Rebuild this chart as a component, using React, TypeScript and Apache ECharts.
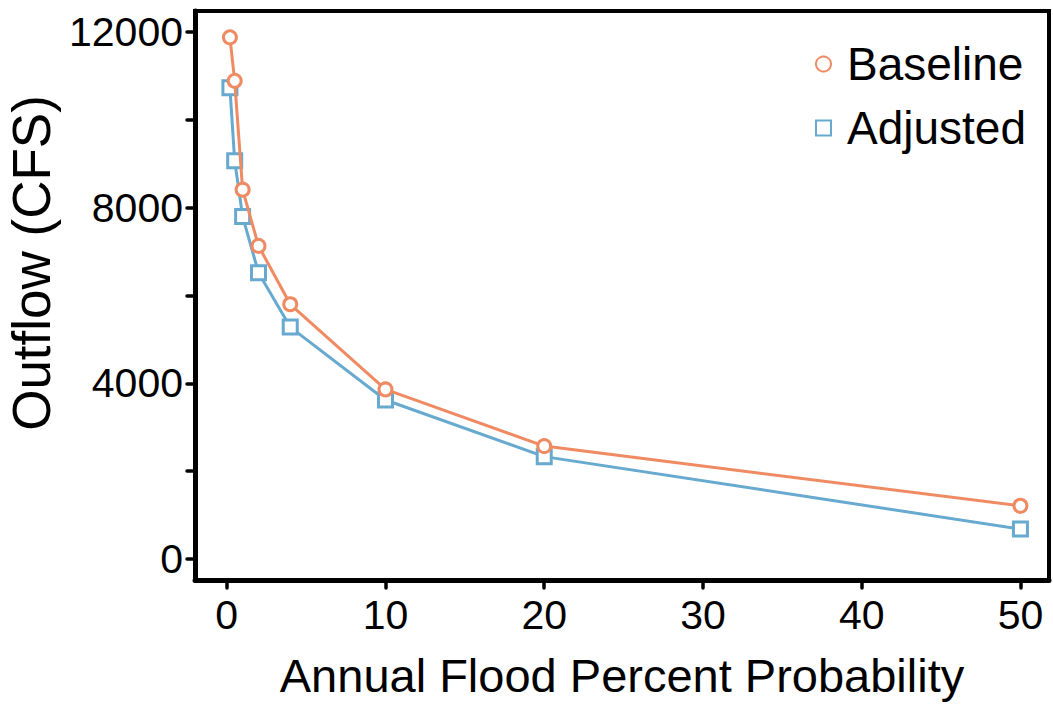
import React, { useEffect, useRef } from "react";
import * as echarts from "echarts";

const probability = [0.2, 0.5, 1, 2, 4, 10, 20, 50];
const baseline = [11880, 10890, 8410, 7130, 5800, 3860, 2570, 1210];
const adjusted = [10730, 9070, 7800, 6520, 5280, 3620, 2330, 680];
const xTicks = [0, 10, 20, 30, 40, 50];
const yTicks = [0, 2000, 4000, 6000, 8000, 10000, 12000];
const yLabels = [0, 4000, 8000, 12000];
const xTitle = "Annual Flood Percent Probability";
const yTitle = "Outflow (CFS)";

const FONT = "'Liberation Sans', Arial, Helvetica, sans-serif";
const ORANGE = "#EF8A62";
const BLUE = "#67A9CF";

export default function App() {
  const ref = useRef<HTMLDivElement>(null);
  useEffect(() => {
    if (!ref.current) return;
    const chart = echarts.init(ref.current, null, { renderer: "svg" });
    const mk = (arr: number[]) => probability.map((p, i) => [p, arr[i]]);
    chart.setOption({
      animation: false,
      backgroundColor: "#ffffff",
      textStyle: { fontFamily: FONT },
      grid: {
        left: 195,
        right: 4,
        top: 11,
        bottom: 124,
        containLabel: false,
        outerBoundsMode: "none",
        show: true,
        borderColor: "#000",
        borderWidth: 4,
        backgroundColor: "transparent",
      },
      graphic: [
        {
          type: "text",
          x: 31.5,
          y: 263,
          rotation: Math.PI / 2,
          style: {
            text: yTitle,
            fontSize: 53,
            fontFamily: FONT,
            fill: "#000",
            align: "center",
            verticalAlign: "middle",
          },
        },
      ],
      legend: {
        orient: "vertical",
        left: 810,
        top: 36,
        itemWidth: 15,
        itemHeight: 15,
        itemGap: 18,
        textStyle: { fontSize: 46, color: "#000", fontFamily: FONT, padding: [0, 0, 0, 11] },
        data: [
          { name: "Baseline", icon: "circle" },
          { name: "Adjusted", icon: "rect" },
        ],
      },
      xAxis: {
        type: "value",
        min: -2,
        max: 51.8,
        name: xTitle,
        nameLocation: "middle",
        nameGap: 72,
        nameTextStyle: { fontSize: 47, color: "#000", fontFamily: FONT },
        axisLine: { show: true, onZero: false, lineStyle: { color: "#000", width: 5, cap: "round" } },
        axisTick: {
          show: true,
          length: 8,
          customValues: xTicks,
          lineStyle: { color: "#000", width: 3.5, cap: "round" },
        },
        axisLabel: {
          customValues: xTicks,
          fontSize: 41,
          color: "#000",
          margin: 14,
          fontFamily: FONT,
          formatter: (v: number) => String(v),
        },
        splitLine: { show: false },
      },
      yAxis: {
        type: "value",
        min: -480,
        max: 12480,
        axisLine: { show: true, onZero: false, lineStyle: { color: "#000", width: 5, cap: "round" } },
        axisTick: {
          show: true,
          length: 8,
          customValues: yTicks,
          lineStyle: { color: "#000", width: 3.5, cap: "round" },
        },
        axisLabel: {
          customValues: yLabels,
          fontSize: 41,
          color: "#000",
          margin: 12,
          fontFamily: FONT,
          formatter: (v: number) => String(v),
        },
        splitLine: { show: false },
      },
      series: [
        {
          name: "Baseline",
          type: "line",
          data: mk(baseline),
          symbol: "circle",
          symbolSize: 13,
          showAllSymbol: true,
          lineStyle: { color: ORANGE, width: 3 },
          itemStyle: { color: "#fff", borderColor: ORANGE, borderWidth: 3 },
          z: 3,
        },
        {
          name: "Adjusted",
          type: "line",
          data: mk(adjusted),
          symbol: "rect",
          symbolSize: 14,
          showAllSymbol: true,
          lineStyle: { color: BLUE, width: 3 },
          itemStyle: { color: "#fff", borderColor: BLUE, borderWidth: 3 },
          z: 2,
        },
      ],
    });
    return () => chart.dispose();
  }, []);
  return <div ref={ref} style={{ width: 1053, height: 704, position: "absolute", left: 0, top: 0 }} />;
}
